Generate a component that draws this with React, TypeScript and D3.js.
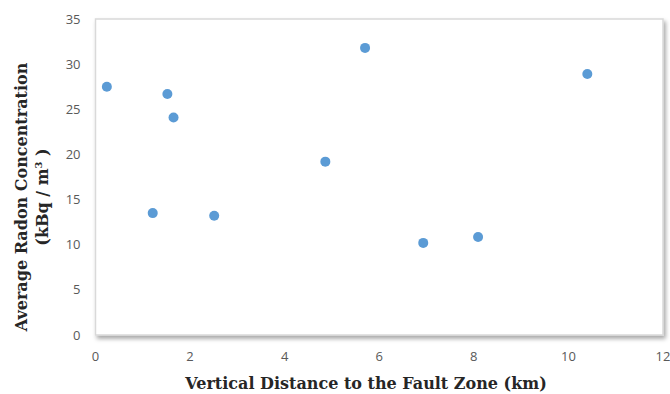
import React from "react";
import * as d3 from "d3";

// distance to fault zone (km) and average radon (kBq/m3)
const distances = [0.24, 1.52, 1.65, 1.21, 2.51, 4.86, 5.7, 10.4, 8.09, 6.93];
const radon = [27.5, 26.7, 24.1, 13.5, 13.2, 19.2, 31.8, 28.9, 10.85, 10.2];
const xTicks = [0, 2, 4, 6, 8, 10, 12];
const yTicks = [0, 5, 10, 15, 20, 25, 30, 35];

const width = 670;
const height = 394;
const margin = { top: 19, right: 7, bottom: 59, left: 95.5 };

export default function App() {
  const innerW = width - margin.left - margin.right;
  const innerH = height - margin.top - margin.bottom;

  const x = d3.scaleLinear().domain([0, 12]).range([0, innerW]);
  const y = d3.scaleLinear().domain([0, 35]).range([innerH, 0]);

  const points = distances.map((d, i) => ({ x: d, y: radon[i] }));
  const tickFont = "'Open Sans', 'Liberation Sans', sans-serif";
  const titleFont = "'DejaVu Serif', 'Liberation Serif', serif";

  return (
    <svg
      width={width}
      height={height}
      style={{ position: "absolute", left: 0, top: 0, background: "#fff" }}
    >
      <defs>
        <filter id="shadow" x="-5%" y="-5%" width="115%" height="115%">
          <feDropShadow dx="2" dy="3" stdDeviation="2" floodColor="#000" floodOpacity="0.35" />
        </filter>
      </defs>
      <g transform={`translate(${margin.left},${margin.top})`}>
        <rect
          x={0}
          y={0}
          width={innerW}
          height={innerH}
          fill="#fff"
          stroke="#d9d9d9"
          strokeWidth={1.5}
          filter="url(#shadow)"
        />
        {yTicks.map(t => (
          <text
            key={"y" + t}
            x={-15}
            y={y(t)}
            dy="0.35em"
            textAnchor="end"
            fontFamily={tickFont}
            fontSize={13}
            fill="#595959"
          >
            {t}
          </text>
        ))}
        {xTicks.map(t => (
          <text
            key={"x" + t}
            x={x(t)}
            y={innerH + 26}
            textAnchor="middle"
            fontFamily={tickFont}
            fontSize={13}
            fill="#595959"
          >
            {t}
          </text>
        ))}
        {points.map((p, i) => (
          <circle key={i} cx={x(p.x)} cy={y(p.y)} r={5} fill="#5b9bd5" />
        ))}
      </g>
      <text
        x={366}
        y={389}
        textAnchor="middle"
        fontFamily={titleFont}
        fontWeight="bold"
        fontSize={16}
        fill="#262626"
      >
        Vertical Distance to the Fault Zone (km)
      </text>
      <g transform="translate(27,197) rotate(-90)">
        <text
          x={0}
          y={0}
          textAnchor="middle"
          fontFamily={titleFont}
          fontWeight="bold"
          fontSize={16}
          fill="#262626"
        >
          Average Radon Concentration
        </text>
        <text
          x={0}
          y={21}
          textAnchor="middle"
          fontFamily={titleFont}
          fontWeight="bold"
          fontSize={16}
          fill="#262626"
        >
          (kBq / m<tspan dy="-6" fontSize={10}>3</tspan>
          <tspan dy="6"> )</tspan>
        </text>
      </g>
    </svg>
  );
}
